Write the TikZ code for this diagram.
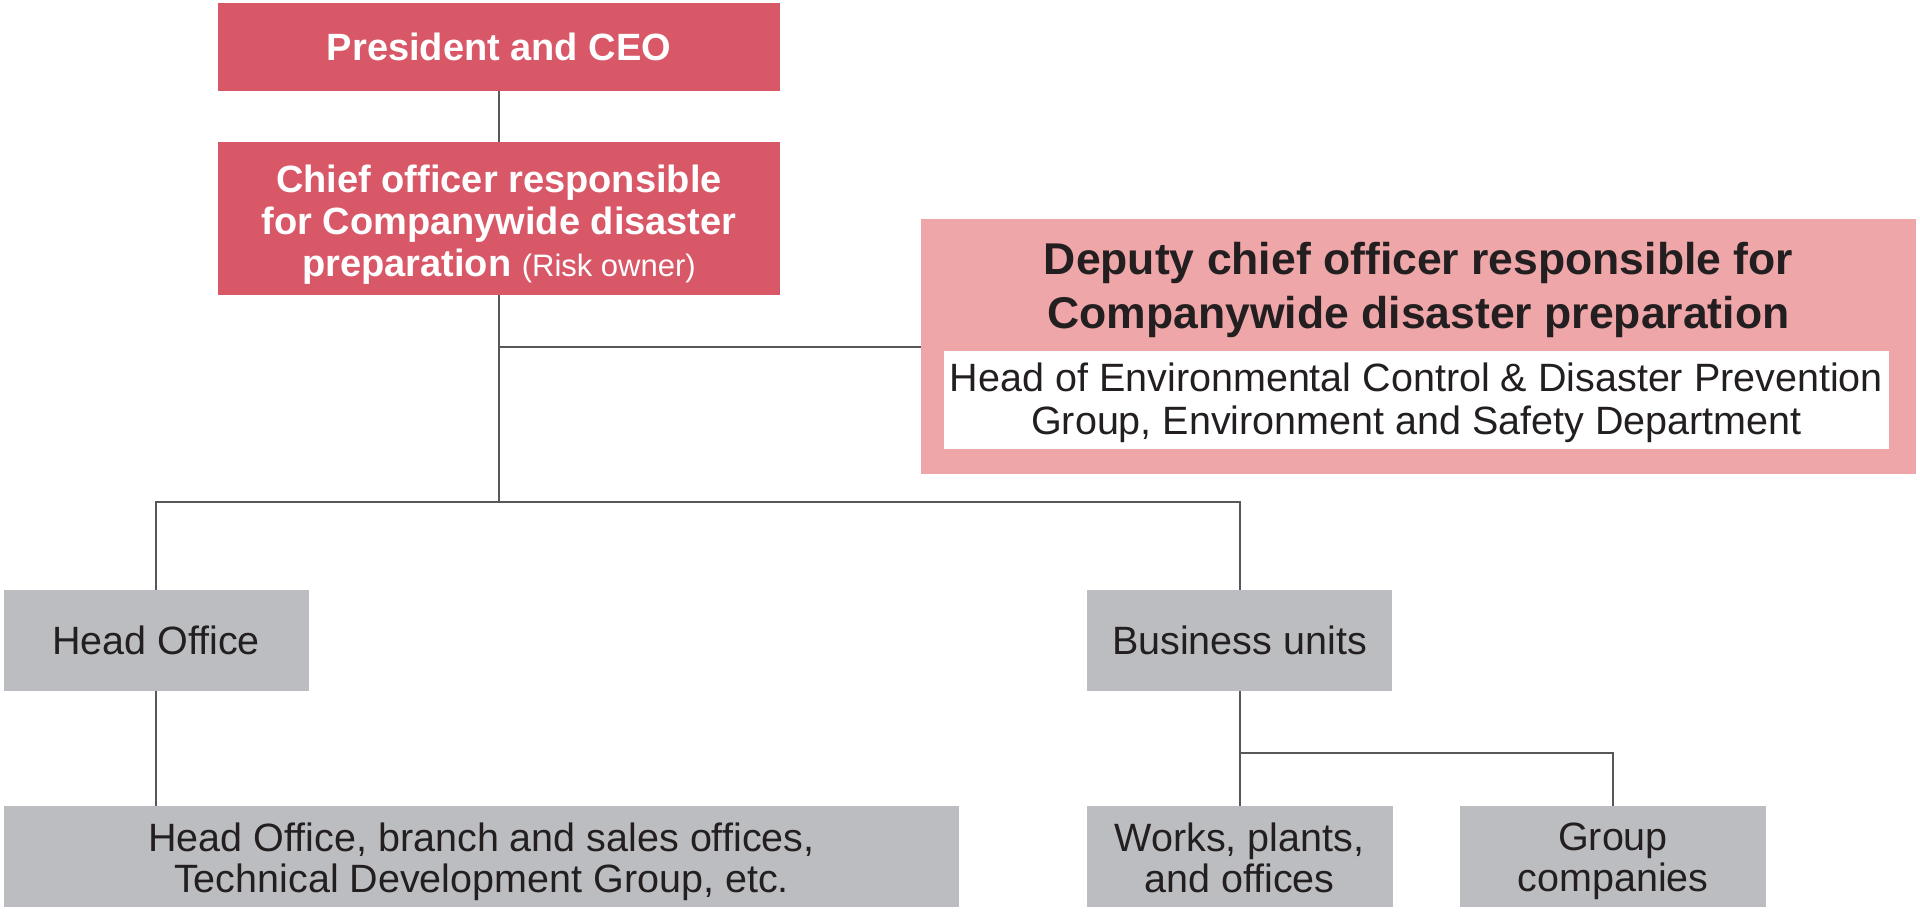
\documentclass[tikz,border=0pt]{standalone}
\usepackage{fontspec}
\setmainfont{Liberation Sans}
\definecolor{cred}{HTML}{D95868}
\definecolor{cpink}{HTML}{EEA6A8}
\definecolor{cgrey}{HTML}{BCBDC0}
\definecolor{ctext}{HTML}{231F20}
\definecolor{cline}{HTML}{58585A}
\begin{document}
\begin{tikzpicture}[x=1pt,y=-1pt,
  redbox/.style={fill=cred, inner sep=0pt},
  redtext/.style={text=white, font=\bfseries\fontsize{38}{42.2}\selectfont, align=center, inner sep=0pt},
  greybox/.style={fill=cgrey, inner sep=0pt, minimum height=101},
  greytext/.style={text=ctext, font=\fontsize{39.5}{40.8}\selectfont, align=center, inner sep=0pt},
  conn/.style={draw=cline, line width=2pt}]
\useasboundingbox (0,0) rectangle (1920,911);

% red boxes
\node[redbox, minimum width=562, minimum height=88] (pres) at (499,46.5) {};
\node[redtext] (presT) at (499,46.5) {President and CEO};
\node[redbox, minimum width=562, minimum height=153] (chief) at (499,218.5) {};
\node[redtext] (chiefT) at (499,224.5)
  {Chief officer responsible\\for Companywide disaster\\preparation {\mdseries\fontsize{31}{42}\selectfont (Risk owner)}};

% deputy box
\node[fill=cpink, minimum width=995, minimum height=255, inner sep=0pt] (deputy) at (1418.5,346.5) {};
\node[text=ctext, font=\bfseries\fontsize{44.5}{53.5}\selectfont, align=center, inner sep=0pt] (dtitle) at (1418.5,290) {Deputy chief officer responsible for\\Companywide disaster preparation};
\node[fill=white, minimum width=945, minimum height=98, inner sep=0pt] (dinner) at (1416.5,400) {};
\node[text=ctext, font=\fontsize{39.5}{43}\selectfont, align=center, inner sep=0pt] (dinnerT) at (1416.5,403) {Head of Environmental Control \& Disaster Prevention\\Group, Environment and Safety Department};

% grey boxes
\node[greybox, minimum width=305] (headoff) at (156,640.5) {};
\node[greytext] (headoffT) at (156,640.5) {Head Office};
\node[greybox, minimum width=305] (bu) at (1239.5,640.5) {};
\node[greytext] (buT) at (1239.5,640.5) {Business units};
\node[greybox, minimum width=955] (hobr) at (481.5,856.5) {};
\node[greytext] (hobrT) at (481.5,861.5) {Head Office, branch and sales offices,\\Technical Development Group, etc.};
\node[greybox, minimum width=306] (works) at (1239.5,856.5) {};
\node[greytext] (worksT) at (1239.5,858) {Works, plants,\\and offices};
\node[greybox, minimum width=306] (group) at (1613,856.5) {};
\node[greytext] (groupT) at (1613,861.5) {Group\\companies};

\coordinate (j1) at (499,346.5);
\coordinate (j2) at (499,502);
\coordinate (j3) at (1239.5,753);

\draw[conn] (pres.south) -- (chief.north);
\draw[conn] (chief.south) -- (j2);
\draw[conn] (j1) -- (deputy.west);
\draw[conn] (headoff.north) |- (j2) -| (bu.north);
\draw[conn] (headoff.south) -- (headoff.south |- hobr.north);
\draw[conn] (bu.south) -- (works.north);
\draw[conn] (j3) -| (group.north);
\end{tikzpicture}
\end{document}
